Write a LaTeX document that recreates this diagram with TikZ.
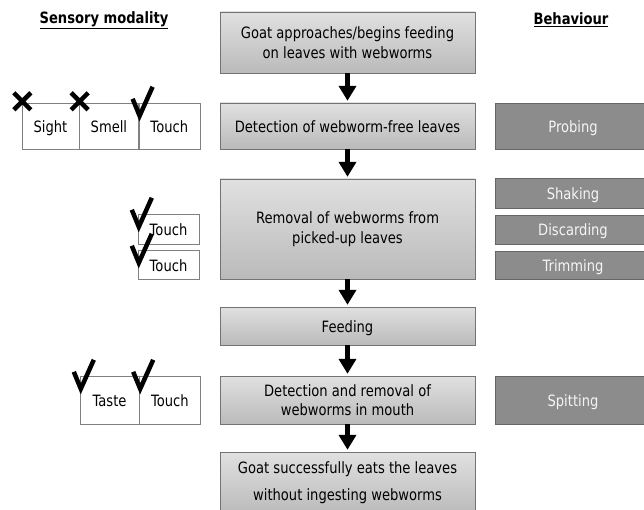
\documentclass[tikz,border=0pt]{standalone}
\usepackage{fontspec}
\setmainfont{DejaVu Sans}[FakeStretch=0.84]
\usetikzlibrary{positioning, arrows.meta}

\tikzset{
	stage/.style={draw=black!55, top color=black!12, bottom color=black!27, minimum width=255pt, align=center, inner sep=0pt, font=\fontsize{15.6}{19.5}\selectfont},
	oneline/.style={text height=13pt, text depth=0pt},
	act/.style={draw=black!60, fill=black!45, text=black!4, minimum width=156pt, inner sep=0pt, oneline, font=\fontsize{15.6}{19}\selectfont},
	sense/.style={draw=black!50, fill=white, inner sep=0pt, oneline, font=\fontsize{15.6}{19}\selectfont},
	flow/.style={-{Triangle[length=15pt,width=17pt]}, line width=5pt, shorten >=2pt},
	tickmark/.style={line width=4.5pt, line join=miter},
	crossmark/.style={line width=4.5pt},
	heading/.style={font=\fontsize{15.6}{19}\selectfont\bfseries},
}
\newcommand\tickat[1]{\draw[tickmark] ([shift={(-6,-4)}]#1) -- ++(7,17) -- ++(13,-29);}
\newcommand\crossat[1]{\draw[crossmark] ([shift={(-8,-10)}]#1) -- ++(17,17) ([shift={(9,-10)}]#1) -- ++(-17,17);}

\begin{document}
\begin{tikzpicture}[x=1pt, y=-1pt]
	\useasboundingbox (0,0) rectangle (644,510);
	\node[heading] (hsense) at (104,20) {\underline{Sensory modality}};
	\node[heading] (hbehav) at (571,20) {\underline{Behaviour}};

	\node[stage, minimum height=61pt] (goat) at (347.5,42.5) {Goat approaches/begins feeding\\on leaves with webworms};
	\node[stage, oneline, minimum height=46pt] (detect) at (347.5,126) {Detection of webworm-free leaves};
	\node[stage, minimum height=100pt] (removal) at (347.5,229) {Removal of webworms from\\picked-up leaves};
	\node[stage, oneline, minimum height=38pt] (feeding) at (347.5,326) {Feeding};
	\node[stage, minimum height=48pt] (mouth) at (347.5,400) {Detection and removal of\\webworms in mouth};
	\node[stage, minimum height=62pt, font=\fontsize{15.6}{27}\selectfont] (eats) at (347.5,483) {Goat successfully eats the leaves\\without ingesting webworms};

	\draw[flow] (goat) -- (detect);
	\draw[flow] (detect) -- (removal);
	\draw[flow] (removal) -- (feeding);
	\draw[flow] (feeding) -- (mouth);
	\draw[flow] (mouth) -- (eats);

	\node[act, minimum height=46pt] (probing) at (573,126) {Probing};
	\node[act, minimum height=30pt] (shaking) at (573,193) {Shaking};
	\node[act, minimum height=29pt] (discarding) at (573,229.5) {Discarding};
	\node[act, minimum height=28pt] (trimming) at (573,265) {Trimming};
	\node[act, minimum height=48pt] (spitting) at (573,400) {Spitting};

	\node[sense, minimum width=57pt, minimum height=46pt] (sight) at (50.5,126) {Sight};
	\node[sense, minimum width=59pt, minimum height=46pt, right=0pt of sight] (smell) {Smell};
	\node[sense, minimum width=61pt, minimum height=46pt, right=0pt of smell] (touchA) {Touch};
	\node[sense, minimum width=61pt, minimum height=30pt] (touchB) at (168.5,229) {Touch};
	\node[sense, minimum width=61pt, minimum height=29pt] (touchC) at (168.5,264.5) {Touch};
	\node[sense, minimum width=59pt, minimum height=48pt] (taste) at (109.5,400) {Taste};
	\node[sense, minimum width=61pt, minimum height=48pt, right=0pt of taste] (touchD) {Touch};

	\crossat{sight.north west}
	\crossat{smell.north west}
	\tickat{touchA.north west}
	\tickat{touchB.north west}
	\tickat{touchC.north west}
	\tickat{taste.north west}
	\tickat{touchD.north west}
\end{tikzpicture}
\end{document}
